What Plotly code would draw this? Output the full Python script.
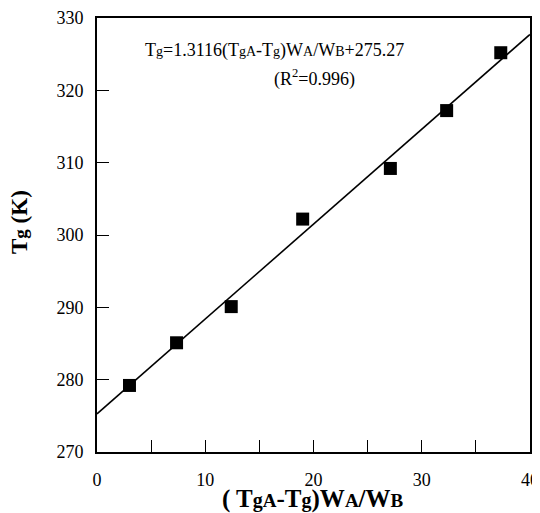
import plotly.graph_objects as go

x_vals = [3.0, 7.35, 12.4, 19.0, 27.1, 32.3, 37.3]
tg_vals = [279.2, 285.1, 290.1, 302.2, 309.2, 317.2, 325.2]
slope = 1.3116
intercept = 275.27
fit_x = [0, 40]
fit_y = [slope * v + intercept for v in fit_x]

x_tickvals = [0, 5, 10, 15, 20, 25, 30, 35, 40]
x_ticktext = ["0", "", "10", "", "20", "", "30", "", "40"]
y_tickvals = [270, 280, 290, 300, 310, 320, 330]

serif = "Liberation Serif"
sm = "<span style='font-size:14px'>"
smb = "<span style='font-size:19px'>"
smg = "<span style='font-size:20px'>"

# page has an 8px body margin; plot area targets page px x 97..530, y 18..452
PW, PH = 433.0, 434.0

def px(xp):
    return (xp - 97) / PW

def py(yp):
    return (452 - yp) / PH

fig = go.Figure()
fig.add_trace(go.Scatter(x=fit_x, y=fit_y, mode="lines",
                         line=dict(color="black", width=1.6), showlegend=False))
fig.add_trace(go.Scatter(x=x_vals, y=tg_vals, mode="markers",
                         marker=dict(symbol="square", size=13, color="black"),
                         showlegend=False))

fig.add_annotation(x=px(143), y=py(51), xref="paper", yref="paper",
                   xanchor="left", yanchor="middle", showarrow=False,
                   text=f"T{sm}g</span>=1.3116(T{sm}gA</span>-T{sm}g</span>)W{sm}A</span>/W{sm}B</span>+275.27",
                   font=dict(family=serif, size=18, color="black"))
fig.add_annotation(x=px(272), y=py(78), xref="paper", yref="paper",
                   xanchor="left", yanchor="middle", showarrow=False,
                   text="(R<sup>2</sup>=0.996)",
                   font=dict(family=serif, size=18, color="black"))
fig.add_annotation(x=px(20), y=py(222), xref="paper", yref="paper",
                   xanchor="center", yanchor="middle", showarrow=False,
                   text=f"<b>T{smb}g</span> (K)</b>", textangle=-90,
                   font=dict(family=serif, size=23, color="black"))
fig.add_annotation(x=px(313), y=py(499), xref="paper", yref="paper",
                   xanchor="center", yanchor="middle", showarrow=False,
                   text=f"<b>( T{smg}g</span>{smb}A</span>-T{smg}g</span>)W{smb}A</span>/W{smb}B</span></b>",
                   font=dict(family=serif, size=25, color="black"))

fig.update_layout(
    width=532, height=505,
    margin=dict(l=89, r=10, t=10, b=61),
    paper_bgcolor="white", plot_bgcolor="white",
    font=dict(family=serif, size=18, color="black"),
)

fig.update_xaxes(range=[0, 40], tickvals=x_tickvals, ticktext=x_ticktext,
                 ticks="inside", ticklen=12, tickwidth=1, tickcolor="black",
                 showline=True, linewidth=2, linecolor="black", mirror=True,
                 showgrid=False, zeroline=False, automargin=False,
                 ticklabelstandoff=10,
                 tickfont=dict(family=serif, size=18, color="black"))
fig.update_yaxes(range=[270, 330], tickvals=y_tickvals,
                 ticks="inside", ticklen=12, tickwidth=1, tickcolor="black",
                 showline=True, linewidth=2, linecolor="black", mirror=True,
                 showgrid=False, zeroline=False, automargin=False,
                 ticklabelstandoff=8,
                 tickfont=dict(family=serif, size=18, color="black"))

fig.write_html("out.html")
